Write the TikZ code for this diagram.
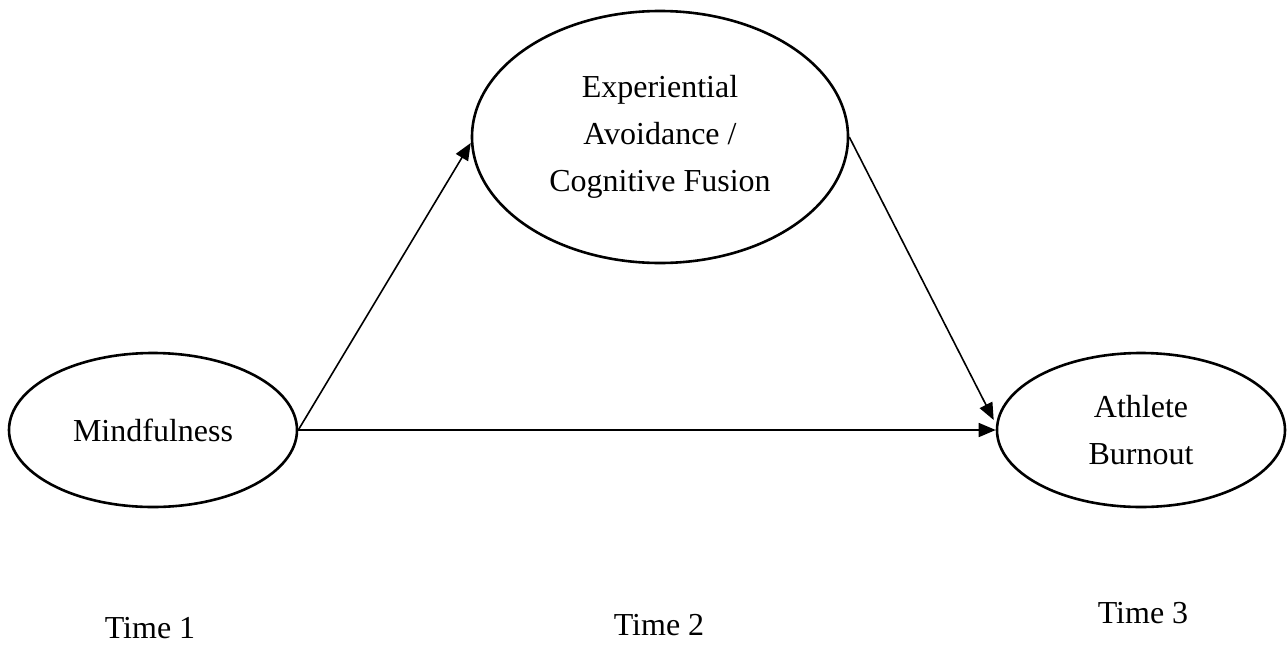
\documentclass[tikz,border=0pt]{standalone}
\usepackage{fontspec}
\setmainfont{Liberation Serif}
\usetikzlibrary{shapes.geometric,arrows.meta}
\begin{document}
\begin{tikzpicture}[x=1pt,y=-1pt,
  latent/.style={draw,ellipse,line width=2.6pt,inner sep=0pt,align=center,
    font=\fontsize{32}{47}\selectfont},
  lbl/.style={anchor=base,inner sep=0pt,font=\fontsize{32}{47}\selectfont},
  arr/.style={line width=1.6pt,-{Triangle[length=17pt,width=14pt]}}]
\useasboundingbox (0,0) rectangle (1287,646);
\node[latent,minimum width=288pt,minimum height=154pt] (M) at (153,430) {Mindfulness};
\node[latent,minimum width=376pt,minimum height=252pt] (E) at (660,137) {Experiential\\Avoidance /\\Cognitive Fusion};
\node[latent,minimum width=288pt,minimum height=154pt] (A) at (1141,430) {Athlete\\Burnout};
\node[lbl] (T1) at (150,638) {Time 1};
\node[lbl] (T2) at (659,635) {Time 2};
\node[lbl] (T3) at (1143,623) {Time 3};
\draw[arr] (M.east) -- ([yshift=-6pt]E.west);
\draw[arr] (E.east) -- ([xshift=-2pt,yshift=10pt]A.west);
\draw[arr] (M.east) -- (A.west);
\end{tikzpicture}
\end{document}
